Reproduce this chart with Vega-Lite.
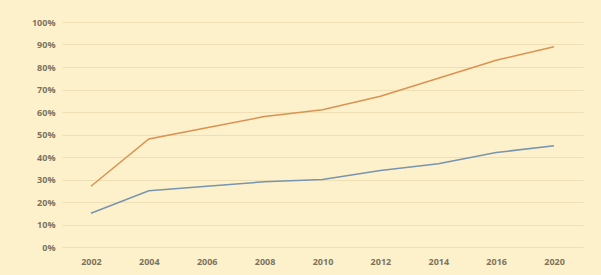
{
  "$schema": "https://vega.github.io/schema/vega-lite/v6.json",
  "autosize": "none",
  "width": 521,
  "height": 225,
  "padding": {"left": 62, "top": 22, "right": 18, "bottom": 28},
  "background": "#FDF1CC",
  "config": {
    "view": {"stroke": null},
    "font": "Open Sans"
  },
  "data": {
    "values": [
      {"year": "2002", "series": "A", "value": 0.27},
      {"year": "2004", "series": "A", "value": 0.48},
      {"year": "2006", "series": "A", "value": 0.53},
      {"year": "2008", "series": "A", "value": 0.58},
      {"year": "2010", "series": "A", "value": 0.61},
      {"year": "2012", "series": "A", "value": 0.67},
      {"year": "2014", "series": "A", "value": 0.75},
      {"year": "2016", "series": "A", "value": 0.83},
      {"year": "2020", "series": "A", "value": 0.89},
      {"year": "2002", "series": "B", "value": 0.15},
      {"year": "2004", "series": "B", "value": 0.25},
      {"year": "2006", "series": "B", "value": 0.27},
      {"year": "2008", "series": "B", "value": 0.29},
      {"year": "2010", "series": "B", "value": 0.30},
      {"year": "2012", "series": "B", "value": 0.34},
      {"year": "2014", "series": "B", "value": 0.37},
      {"year": "2016", "series": "B", "value": 0.42},
      {"year": "2020", "series": "B", "value": 0.45}
    ]
  },
  "mark": {"type": "line", "strokeWidth": 1.5},
  "encoding": {
    "x": {
      "field": "year", "type": "ordinal", "sort": null,
      "scale": {"type": "point", "padding": 0.5},
      "axis": {
        "title": null, "labelAngle": 0, "domain": false, "ticks": false, "grid": false,
        "labelPadding": 10, "labelFontSize": 9, "labelFontWeight": "bold", "labelColor": "#7d735c"
      }
    },
    "y": {
      "field": "value", "type": "quantitative",
      "scale": {"domain": [0, 1], "nice": false},
      "axis": {
        "title": null, "format": ".0%", "values": [0, 0.1, 0.2, 0.3, 0.4, 0.5, 0.6, 0.7, 0.8, 0.9, 1],
        "domain": false, "ticks": false, "labelPadding": 7,
        "labelFontSize": 9, "labelFontWeight": "bold", "labelColor": "#7d735c",
        "gridColor": "#EEDFB4", "gridWidth": 1
      }
    },
    "color": {
      "field": "series", "type": "nominal",
      "scale": {"domain": ["A", "B"], "range": ["#DB9250", "#7894AE"]},
      "legend": null
    }
  }
}
